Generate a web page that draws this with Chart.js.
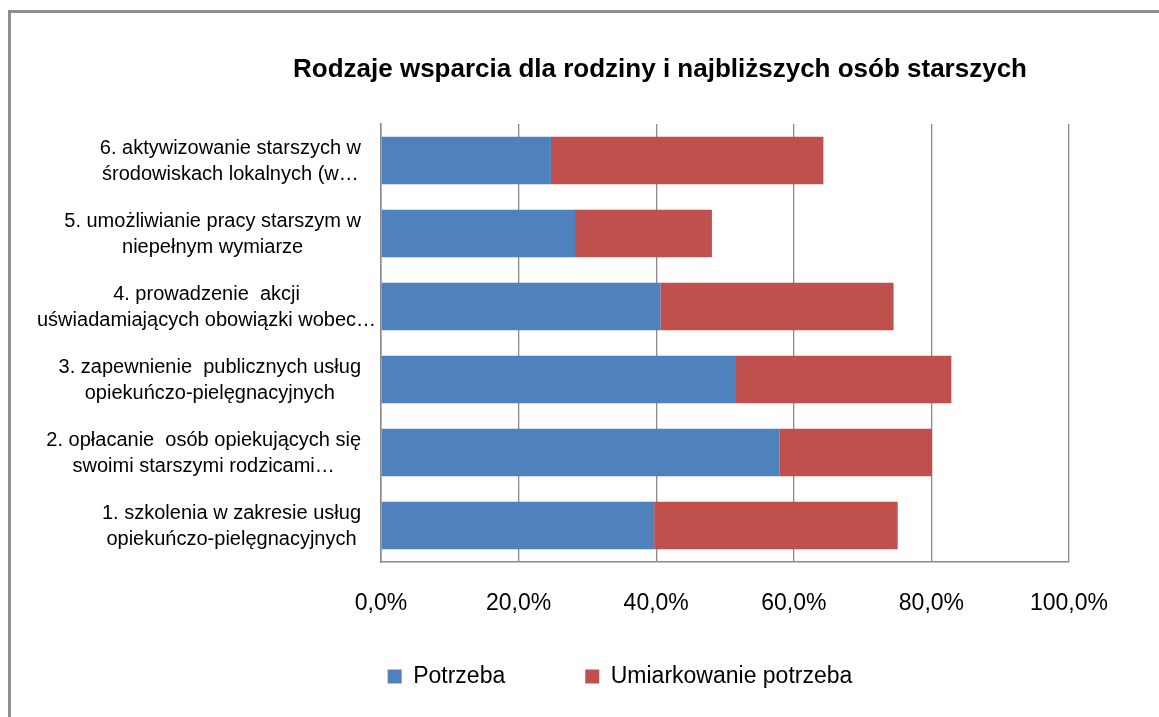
<!DOCTYPE html>
<html>
<head>
<meta charset="utf-8">
<script src="https://cdn.jsdelivr.net/npm/chart.js@4"></script>
<style>
  html, body { margin: 0; padding: 0; background: #fff; }
  #wrap { position: relative; width: 1159px; height: 717px; overflow: hidden; }
  #frame { position: absolute; left: 8px; top: 10px; width: 1300px; height: 800px; border-left: 3px solid #8e8e8e; border-top: 3px solid #8e8e8e; }
  canvas { position: absolute; left: 0; top: 0; }
</style>
</head>
<body>
<div id="wrap">
  <div id="frame"></div>
  <canvas id="chart" width="1159" height="717"></canvas>
</div>
<script>
  // Categories, top to bottom as shown
  const categories = [
    ["6. aktywizowanie starszych w", "środowiskach lokalnych (w…"],
    ["5. umożliwianie pracy starszym w", "niepełnym wymiarze"],
    ["4. prowadzenie  akcji", "uświadamiających obowiązki wobec…"],
    ["3. zapewnienie  publicznych usług", "opiekuńczo-pielęgnacyjnych"],
    ["2. opłacanie  osób opiekujących się", "swoimi starszymi rodzicami…"],
    ["1. szkolenia w zakresie usług", "opiekuńczo-pielęgnacyjnych"],
  ];
  const potrzeba = [24.7, 28.2, 40.6, 51.6, 57.9, 39.7];
  const umiarkowana = [39.6, 19.9, 33.9, 31.3, 22.2, 35.4];
  const xTicks = [0, 20, 40, 60, 80, 100];
  const title = "Rodzaje wsparcia dla rodziny i najbliższych osób starszych";

  const blue = "#4f81bd";
  const red = "#c0504d";
  const gridGray = "#8a8a8a";
  const font = "'Liberation Sans', Arial, sans-serif";

  // Title sits off the legend centre in the original, so draw it by hand
  const titlePlugin = {
    id: "offsetTitle",
    afterDraw(chart) {
      const { ctx } = chart;
      ctx.save();
      ctx.font = `bold 26px ${font}`;
      ctx.fillStyle = "#000";
      ctx.textAlign = "center";
      ctx.textBaseline = "middle";
      ctx.fillText(title, 660, 70);
      ctx.restore();
    },
  };

  // Excel-style category labels: each block right-aligned, lines centred in the block
  const catLabelPlugin = {
    id: "catLabels",
    afterDraw(chart) {
      const { ctx } = chart;
      const yScale = chart.scales.y;
      const right = yScale.right - 20;
      const lineH = 26;
      ctx.save();
      ctx.font = `20px ${font}`;
      ctx.fillStyle = "#000";
      ctx.textAlign = "center";
      ctx.textBaseline = "middle";
      chart.data.labels.forEach((lines, i) => {
        const y = yScale.getPixelForTick(i) + 1;
        const w = Math.max(...lines.map((l) => ctx.measureText(l).width));
        const cx = Math.max(right - w / 2, 37 + w / 2);
        lines.forEach((l, j) => {
          ctx.fillText(l, cx, y + (j - (lines.length - 1) / 2) * lineH);
        });
      });
      ctx.restore();
    },
  };

  // Pull the legend row up into the space below the axis labels
  const legendShift = {
    id: "legendShift",
    afterLayout(chart) {
      if (chart.legend) {
        chart.legend.top -= 35;
        chart.legend.bottom -= 35;
      }
    },
  };

  new Chart(document.getElementById("chart"), {
    type: "bar",
    data: {
      labels: categories,
      datasets: [
        { label: "Potrzeba", data: potrzeba, backgroundColor: blue, barPercentage: 0.65, categoryPercentage: 1 },
        { label: "Umiarkowanie potrzeba", data: umiarkowana, backgroundColor: red, barPercentage: 0.65, categoryPercentage: 1 },
      ],
    },
    plugins: [titlePlugin, catLabelPlugin, legendShift],
    options: {
      indexAxis: "y",
      responsive: false,
      animation: false,
      layout: { padding: { left: 171, right: 90, top: 124, bottom: -16 } },
      scales: {
        x: {
          stacked: true,
          min: 0,
          max: 100,
          afterBuildTicks(axis) {
            axis.ticks = xTicks.map((v) => ({ value: v }));
          },
          afterFit(axis) {
            axis.height = 58;
          },
          ticks: {
            color: "#000",
            font: { family: font, size: 23 },
            padding: 28,
            callback: (v) => v.toFixed(1).replace(".", ",") + "%",
          },
          grid: { color: gridGray, lineWidth: 1.3, drawTicks: false },
          border: { color: gridGray, width: 1.5 },
        },
        y: {
          stacked: true,
          afterFit(axis) {
            axis.width = 210;
          },
          ticks: { display: false },
          grid: { display: false, drawTicks: false },
          border: { color: gridGray, width: 1.5 },
        },
      },
      plugins: {
        legend: {
          position: "bottom",
          labels: {
            color: "#000",
            font: { family: font, size: 23 },
            boxWidth: 14,
            boxHeight: 14,
            padding: 80,
          },
        },
        tooltip: { enabled: false },
        title: { display: false },
      },
    },
  });
</script>
</body>
</html>
